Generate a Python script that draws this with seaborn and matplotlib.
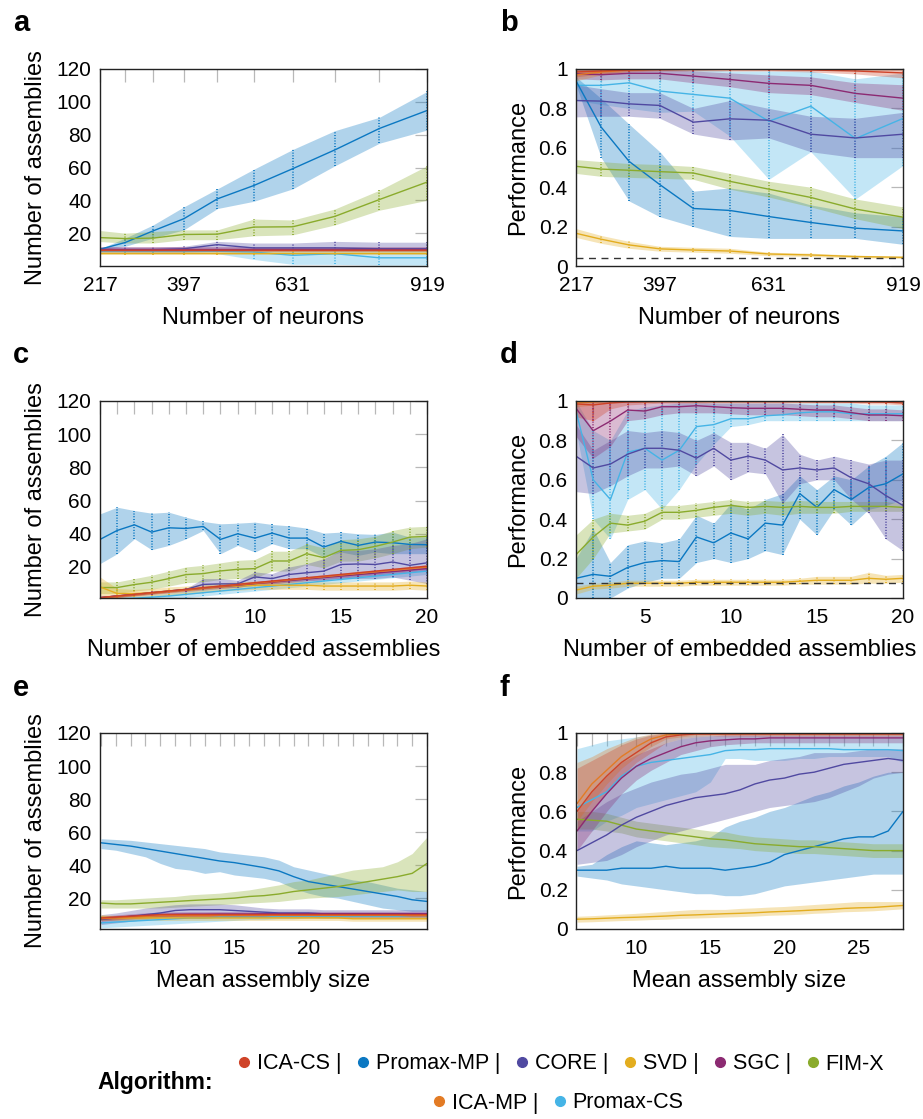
import matplotlib
matplotlib.use("Agg")
import matplotlib.pyplot as plt
from matplotlib.lines import Line2D
import seaborn as sns

# ---------------- data ----------------
ALGOS = ["ICA-CS", "Promax-MP", "CORE", "SVD", "SGC", "FIM-X", "ICA-MP", "Promax-CS"]
COLORS = {
    "ICA-CS": "#cf4328", "Promax-MP": "#0b78c2", "CORE": "#5049a1", "SVD": "#e3ad1f",
    "SGC": "#8c2a72", "FIM-X": "#8aab2c", "ICA-MP": "#e37b24", "Promax-CS": "#45b4e6",
}
DRAW_ORDER = ["Promax-CS", "Promax-MP", "FIM-X", "CORE", "SVD", "SGC", "ICA-MP", "ICA-CS"]

X_NEURONS = [217, 271, 331, 397, 469, 547, 631, 721, 817, 919]
NEURON_LABELS = [217, 397, 631, 919]
X_EMBED = list(range(1, 21))
EMBED_LABELS = [5, 10, 15, 20]
X_SIZE = list(range(6, 29))
SIZE_LABELS = [10, 15, 20, 25]
COUNT_TICKS = [20, 40, 60, 80, 100, 120]
PERF_TICKS = [0, 0.2, 0.4, 0.6, 0.8, 1.0]
PERF_LABELS = ["0", "0.2", "0.4", "0.6", "0.8", "1"]
CHANCE_B = 0.042
CHANCE_D = 0.075

# panel a: number of assemblies vs number of neurons
A_MEAN = {
    "ICA-CS": [10, 10, 10, 10, 10, 10, 10, 10, 10, 10],
    "Promax-MP": [10.2, 14.3, 21.4, 28.8, 40.9, 49.0, 59.3, 70.7, 83.8, 94.7],
    "CORE": [10, 10, 10, 10.5, 13, 11, 11, 11, 10.5, 10.5],
    "SVD": [8, 8, 8, 8, 8, 8, 8, 8, 8, 8],
    "SGC": [10.5, 10.5, 10.5, 10.5, 10.5, 10.5, 10.5, 10.5, 10.5, 10.5],
    "FIM-X": [17.3, 16.7, 17.0, 19.2, 19.4, 23.7, 23.9, 30.2, 40.5, 51.1],
    "ICA-MP": [9.5, 9.5, 9.5, 9.5, 9.5, 9.5, 9.5, 9.5, 9.5, 9.5],
    "Promax-CS": [9, 9, 9, 9, 9, 8.5, 6.5, 7.5, 5, 5],
}
A_LO = {
    "ICA-CS": [9.5, 9.5, 9.5, 9.5, 9.5, 9.5, 9.5, 9.5, 9.5, 9.5],
    "Promax-MP": [10, 12, 17, 22, 35, 39.4, 47, 61, 74.8, 82.8],
    "CORE": [8.5, 8.5, 8.5, 8.5, 9, 9, 9, 9, 9, 9],
    "SVD": [7, 7, 7, 7, 7, 7, 7, 7, 7, 7],
    "SGC": [9.5, 9.5, 9.5, 9.5, 9.5, 9.5, 9.5, 9.5, 9.5, 9.5],
    "FIM-X": [14.9, 14, 14, 16, 16, 18.4, 19, 25, 34, 40],
    "ICA-MP": [9, 9, 9, 9, 9, 9, 9, 9, 9, 9],
    "Promax-CS": [8, 8, 8, 8, 7.5, 4, 1, 1, 0.5, 0.5],
}
A_HI = {
    "ICA-CS": [10.5, 10.5, 10.5, 10.5, 10.5, 10.5, 10.5, 10.5, 10.5, 10.5],
    "Promax-MP": [10.5, 17, 25, 36, 47, 58.9, 71, 82.4, 90.6, 106.3],
    "CORE": [11.5, 11.5, 11.5, 12, 15, 14, 14, 15, 14.5, 14.5],
    "SVD": [9, 9, 9, 9, 9, 9, 9, 9, 9, 9],
    "SGC": [11.5, 11.5, 11.5, 11.5, 11.5, 11.5, 11.5, 11.5, 11.5, 11.5],
    "FIM-X": [21.6, 20, 21, 22, 22, 28.6, 28, 34.7, 46.2, 61],
    "ICA-MP": [10, 10, 10, 10, 10, 10, 10, 10, 10, 10],
    "Promax-CS": [10, 10, 10, 10, 10, 10, 10, 10, 9.5, 9.5],
}

# panel b: performance vs number of neurons
B_MEAN = {
    "ICA-CS": [0.985, 0.99, 0.995, 0.997, 0.998, 0.998, 0.997, 0.995, 0.99, 0.98],
    "Promax-MP": [0.94, 0.705, 0.531, 0.413, 0.292, 0.282, 0.251, 0.221, 0.192, 0.178],
    "CORE": [0.84, 0.837, 0.823, 0.815, 0.73, 0.747, 0.74, 0.669, 0.65, 0.669],
    "SVD": [0.166, 0.136, 0.107, 0.087, 0.081, 0.076, 0.061, 0.056, 0.048, 0.044],
    "SGC": [0.976, 0.971, 0.978, 0.978, 0.964, 0.947, 0.927, 0.917, 0.876, 0.852],
    "FIM-X": [0.506, 0.492, 0.486, 0.479, 0.472, 0.43, 0.39, 0.348, 0.289, 0.248],
    "ICA-MP": [0.97, 0.985, 0.995, 1.0, 1.0, 1.0, 1.0, 1.0, 1.0, 1.0],
    "Promax-CS": [0.917, 0.917, 0.93, 0.888, 0.871, 0.852, 0.735, 0.811, 0.647, 0.749],
}
B_LO = {
    "ICA-CS": [0.96, 0.975, 0.985, 0.99, 0.99, 0.99, 0.99, 0.985, 0.975, 0.955],
    "Promax-MP": [0.92, 0.55, 0.33, 0.25, 0.2, 0.15, 0.14, 0.14, 0.14, 0.11],
    "CORE": [0.757, 0.76, 0.76, 0.75, 0.67, 0.64, 0.65, 0.58, 0.55, 0.55],
    "SVD": [0.145, 0.115, 0.09, 0.075, 0.07, 0.065, 0.052, 0.048, 0.042, 0.038],
    "SGC": [0.95, 0.945, 0.95, 0.95, 0.93, 0.91, 0.88, 0.87, 0.83, 0.79],
    "FIM-X": [0.47, 0.455, 0.45, 0.445, 0.44, 0.39, 0.35, 0.3, 0.24, 0.19],
    "ICA-MP": [0.94, 0.97, 0.99, 0.995, 0.995, 0.995, 0.995, 0.995, 0.995, 0.995],
    "Promax-CS": [0.84, 0.82, 0.8, 0.78, 0.786, 0.66, 0.44, 0.58, 0.34, 0.51],
}
B_HI = {
    "ICA-CS": [1.0, 1.0, 1.0, 1.0, 1.0, 1.0, 1.0, 1.0, 1.0, 1.0],
    "Promax-MP": [0.96, 0.85, 0.72, 0.58, 0.38, 0.396, 0.37, 0.31, 0.27, 0.25],
    "CORE": [0.92, 0.9, 0.88, 0.88, 0.8, 0.84, 0.8, 0.76, 0.75, 0.78],
    "SVD": [0.19, 0.155, 0.125, 0.1, 0.095, 0.09, 0.07, 0.065, 0.055, 0.05],
    "SGC": [1.0, 1.0, 1.0, 1.0, 0.99, 0.98, 0.97, 0.96, 0.93, 0.92],
    "FIM-X": [0.54, 0.53, 0.52, 0.515, 0.505, 0.47, 0.43, 0.4, 0.34, 0.3],
    "ICA-MP": [1.0, 1.0, 1.0, 1.0, 1.0, 1.0, 1.0, 1.0, 1.0, 1.0],
    "Promax-CS": [1.0, 1.0, 1.0, 1.0, 1.0, 0.99, 0.99, 0.99, 0.95, 0.98],
}

# panel c: number of assemblies vs number of embedded assemblies
C_MEAN = {
    "ICA-CS": [1.5, 2.5, 3.5, 4.5, 5.5, 6.5, 7.5, 8.5, 9.5, 10.5, 11.5, 12.5, 13.5, 14.5, 15.5, 16.5, 17.5, 18.5, 19.5, 20.5],
    "Promax-MP": [36.6, 42.0, 45.4, 41.0, 43.6, 43.2, 44.4, 36.6, 40.0, 37.4, 40.4, 37.4, 37.4, 32.0, 35.4, 33.0, 35.0, 34.6, 33.6, 33.4],
    "CORE": [1.5, 2.5, 3.5, 4.5, 5.5, 6.5, 9.5, 9.8, 9.8, 14.0, 13.0, 15.5, 16.5, 17.5, 21.5, 21.8, 21.5, 23.0, 21.0, 22.5],
    "SVD": [8.0, 4.0, 4.0, 4.5, 5.5, 6.0, 7.0, 8.0, 8.5, 9.0, 9.0, 9.0, 9.0, 8.5, 8.5, 8.5, 8.5, 8.5, 9.0, 8.5],
    "SGC": [1.5, 2.5, 3.4, 4.4, 5.3, 6.2, 7.2, 8.1, 9.0, 10.0, 10.9, 11.8, 12.7, 13.6, 14.5, 15.4, 16.3, 17.2, 18.1, 19.0],
    "FIM-X": [7.6, 7.6, 9.4, 10.8, 13.0, 15.4, 16.0, 17.6, 18.6, 19.0, 23.6, 23.6, 28.0, 25.6, 30.0, 30.4, 32.4, 35.0, 38.0, 38.4],
    "ICA-MP": [1.3, 2.3, 3.3, 4.3, 5.3, 6.3, 7.3, 8.3, 9.3, 10.2, 11.2, 12.2, 13.2, 14.1, 15.1, 16.1, 17.1, 18.0, 19.0, 20.0],
    "Promax-CS": [0.5, 0.8, 1.2, 1.8, 2.5, 3.5, 4.5, 5.5, 6.5, 7.5, 8.5, 9.5, 10.5, 11.5, 12.5, 13.5, 14.5, 15.5, 16.5, 17.5],
}
C_LO = {
    "ICA-CS": [0.7, 1.7, 2.7, 3.7, 4.7, 5.7, 6.7, 7.7, 8.7, 9.7, 10.7, 11.7, 12.7, 13.7, 14.7, 15.7, 16.7, 17.7, 18.7, 19.7],
    "Promax-MP": [22, 28, 37, 30.4, 33, 37, 42, 28, 33, 29, 34, 31, 31, 26, 29, 27, 29, 28, 28, 28],
    "CORE": [1, 2, 3, 4, 5, 6, 7, 7.5, 7.5, 10, 10, 11, 12, 12, 13, 13, 13, 14, 12, 10],
    "SVD": [2, 1.5, 2, 2.5, 3, 3.5, 4.5, 5.5, 6, 6.5, 6.5, 6.5, 6.5, 6, 6, 6, 6, 6, 6.5, 6],
    "SGC": [0.7, 1.6, 2.5, 3.4, 4.3, 5.2, 6.1, 7.0, 7.9, 8.8, 9.7, 10.6, 11.5, 12.4, 13.3, 14.2, 15.1, 16.0, 16.9, 17.8],
    "FIM-X": [4, 4, 5.5, 6.5, 8.5, 10.5, 11, 12.5, 13, 13.5, 17.5, 17.5, 21.5, 19.5, 23.5, 23.5, 25.5, 28, 31, 32],
    "ICA-MP": [0.6, 1.6, 2.6, 3.6, 4.6, 5.6, 6.6, 7.6, 8.6, 9.5, 10.5, 11.5, 12.5, 13.4, 14.4, 15.4, 16.4, 17.3, 18.3, 19.3],
    "Promax-CS": [0, 0, 0, 0.3, 0.8, 1.5, 2.5, 3.5, 4.5, 5.5, 6.5, 7.5, 8.5, 9.5, 10.5, 11.5, 12.5, 13.5, 14.5, 15.5],
}
C_HI = {
    "ICA-CS": [2.3, 3.3, 4.3, 5.3, 6.3, 7.3, 8.3, 9.3, 10.3, 11.3, 12.3, 13.3, 14.3, 15.3, 16.3, 17.3, 18.3, 19.3, 20.3, 21.3],
    "Promax-MP": [52, 56, 54, 52.4, 53, 50, 47.4, 46, 46.4, 47, 45.6, 44.8, 43.4, 40.4, 41, 40, 39.6, 41, 38, 38],
    "CORE": [2, 3, 4, 5, 6, 7, 13, 13, 12, 17, 16, 20, 22, 25, 30, 30, 31, 33, 34, 37],
    "SVD": [14, 7, 6.5, 7, 8, 8.5, 9.5, 10.5, 11, 11.5, 11.5, 11.5, 11.5, 11, 11, 11, 11, 11, 11.5, 11],
    "SGC": [2.3, 3.4, 4.3, 5.4, 6.3, 7.2, 8.3, 9.2, 10.1, 11.2, 12.1, 13.0, 13.9, 14.8, 15.7, 16.6, 17.5, 18.4, 19.3, 20.2],
    "FIM-X": [11, 11, 13, 15, 17.5, 20, 21, 22.5, 24, 24.5, 29.5, 29.5, 34, 31.5, 36.5, 37, 38.5, 42, 44, 44.5],
    "ICA-MP": [2.0, 3.0, 4.0, 5.0, 6.0, 7.0, 8.0, 9.0, 10.0, 10.9, 11.9, 12.9, 13.9, 14.8, 15.8, 16.8, 17.8, 18.7, 19.7, 20.7],
    "Promax-CS": [1.5, 2, 2.5, 3.3, 4.2, 5.5, 6.5, 7.5, 8.5, 9.5, 10.5, 11.5, 12.5, 13.5, 14.5, 15.5, 16.5, 17.5, 18.5, 19.5],
}

# panel d: performance vs number of embedded assemblies
D_MEAN = {
    "ICA-CS": [0.985, 0.98, 0.99, 0.995, 0.995, 0.997, 0.997, 0.997, 0.997, 0.997, 0.997, 0.997, 0.997, 0.997, 0.996, 0.996, 0.995, 0.995, 0.994, 0.99],
    "Promax-MP": [0.10, 0.12, 0.11, 0.155, 0.18, 0.19, 0.185, 0.31, 0.28, 0.33, 0.30, 0.38, 0.37, 0.53, 0.46, 0.55, 0.50, 0.56, 0.58, 0.63],
    "CORE": [0.72, 0.66, 0.68, 0.73, 0.76, 0.76, 0.75, 0.71, 0.76, 0.70, 0.72, 0.70, 0.65, 0.66, 0.65, 0.66, 0.61, 0.58, 0.52, 0.47],
    "SVD": [0.04, 0.06, 0.065, 0.075, 0.075, 0.075, 0.075, 0.08, 0.08, 0.08, 0.08, 0.08, 0.08, 0.085, 0.09, 0.09, 0.09, 0.1, 0.095, 0.1],
    "SGC": [0.963, 0.849, 0.898, 0.954, 0.949, 0.971, 0.971, 0.976, 0.971, 0.966, 0.963, 0.963, 0.963, 0.958, 0.954, 0.954, 0.941, 0.929, 0.929, 0.925],
    "FIM-X": [0.22, 0.31, 0.38, 0.37, 0.39, 0.435, 0.435, 0.445, 0.46, 0.47, 0.46, 0.465, 0.46, 0.465, 0.46, 0.46, 0.465, 0.465, 0.465, 0.46],
    "ICA-MP": [0.99, 0.995, 1.0, 1.0, 1.0, 1.0, 1.0, 1.0, 1.0, 1.0, 1.0, 1.0, 1.0, 1.0, 1.0, 1.0, 1.0, 1.0, 1.0, 1.0],
    "Promax-CS": [0.95, 0.6, 0.5, 0.74, 0.76, 0.7, 0.75, 0.87, 0.88, 0.91, 0.91, 0.925, 0.93, 0.94, 0.945, 0.945, 0.935, 0.935, 0.935, 0.935],
}
D_LO = {
    "ICA-CS": [0.92, 0.9, 0.96, 0.98, 0.985, 0.99, 0.99, 0.99, 0.99, 0.99, 0.99, 0.99, 0.99, 0.99, 0.99, 0.99, 0.99, 0.985, 0.985, 0.98],
    "Promax-MP": [0.0, 0.0, 0.0, 0.05, 0.08, 0.1, 0.1, 0.18, 0.2, 0.18, 0.2, 0.24, 0.22, 0.4, 0.32, 0.45, 0.37, 0.45, 0.47, 0.5],
    "CORE": [0.54, 0.53, 0.57, 0.62, 0.66, 0.66, 0.67, 0.62, 0.67, 0.6, 0.64, 0.63, 0.48, 0.58, 0.6, 0.6, 0.5, 0.43, 0.3, 0.24],
    "SVD": [0.02, 0.045, 0.05, 0.06, 0.06, 0.06, 0.06, 0.065, 0.065, 0.065, 0.065, 0.065, 0.065, 0.07, 0.07, 0.07, 0.07, 0.075, 0.075, 0.08],
    "SGC": [0.82, 0.71, 0.77, 0.9, 0.91, 0.93, 0.94, 0.94, 0.94, 0.935, 0.93, 0.93, 0.93, 0.925, 0.92, 0.92, 0.91, 0.9, 0.9, 0.9],
    "FIM-X": [0.1, 0.2, 0.33, 0.34, 0.35, 0.4, 0.4, 0.41, 0.42, 0.43, 0.42, 0.43, 0.42, 0.43, 0.43, 0.43, 0.44, 0.44, 0.44, 0.44],
    "ICA-MP": [0.97, 0.98, 0.99, 0.995, 0.995, 0.995, 0.995, 0.995, 0.995, 0.995, 0.995, 0.995, 0.995, 0.995, 0.995, 0.995, 0.995, 0.995, 0.995, 0.995],
    "Promax-CS": [0.85, 0.4, 0.3, 0.5, 0.55, 0.45, 0.55, 0.68, 0.78, 0.87, 0.88, 0.9, 0.9, 0.9, 0.9, 0.9, 0.9, 0.9, 0.9, 0.9],
}
D_HI = {
    "ICA-CS": [1.0] * 20,
    "Promax-MP": [0.2, 0.35, 0.18, 0.27, 0.29, 0.28, 0.3, 0.42, 0.38, 0.48, 0.45, 0.5, 0.53, 0.62, 0.55, 0.62, 0.6, 0.67, 0.72, 0.79],
    "CORE": [0.88, 0.75, 0.8, 0.85, 0.84, 0.85, 0.84, 0.8, 0.84, 0.79, 0.79, 0.76, 0.83, 0.73, 0.7, 0.72, 0.7, 0.68, 0.7, 0.7],
    "SVD": [0.06, 0.075, 0.08, 0.09, 0.09, 0.09, 0.09, 0.095, 0.095, 0.095, 0.095, 0.095, 0.095, 0.1, 0.11, 0.11, 0.11, 0.13, 0.115, 0.12],
    "SGC": [1.0, 1.0, 1.0, 1.0, 0.99, 0.995, 0.995, 0.995, 0.99, 0.99, 0.99, 0.99, 0.99, 0.985, 0.98, 0.98, 0.97, 0.96, 0.96, 0.955],
    "FIM-X": [0.32, 0.4, 0.43, 0.42, 0.43, 0.47, 0.47, 0.48, 0.49, 0.5, 0.49, 0.495, 0.49, 0.495, 0.49, 0.49, 0.49, 0.49, 0.49, 0.48],
    "ICA-MP": [1.0] * 20,
    "Promax-CS": [1.0, 0.85, 0.8, 0.95, 0.97, 0.98, 0.99, 0.99, 0.99, 0.99, 0.99, 0.99, 0.99, 0.99, 0.99, 0.99, 0.99, 0.98, 0.98, 0.98],
}

# panel e: number of assemblies vs mean assembly size (6 .. 28)
E_MEAN = {
    "ICA-CS": [8, 8.5, 9, 9.5, 10, 10, 10, 10, 10, 10, 10, 10, 10, 10, 10, 10, 10, 10, 10, 10, 10, 10, 10],
    "Promax-MP": [53.5, 52.5, 51.5, 50, 48.5, 47, 45.5, 44, 42.5, 41.5, 40, 38.5, 36.5, 33, 30, 28.5, 27, 25.5, 24, 22.5, 21, 19, 18],
    "CORE": [7, 8, 9, 10, 11, 12.5, 13, 13, 13, 12.5, 12, 11.5, 11, 11, 11, 10.5, 10.5, 10.5, 10.5, 10.5, 10.5, 10.5, 10.5],
    "SVD": [8.5, 8, 8, 8, 8, 8, 8, 8, 8, 8, 8, 8, 8, 8, 8, 8, 8, 7.5, 7.5, 7.5, 7.5, 7.5, 7.5],
    "SGC": [7.5, 8.3, 9, 9.6, 10, 10.2, 10.3, 10.3, 10.4, 10.4, 10.4, 10.5, 10.5, 10.5, 10.5, 10.5, 10.5, 10.5, 10.5, 10.5, 10.5, 10.5, 10.5],
    "FIM-X": [17, 16.5, 16.5, 17, 17.5, 18, 18.5, 19, 19.5, 20, 21, 21.5, 22.5, 24, 25, 26, 27, 28.5, 30, 31.5, 33, 35, 41],
    "ICA-MP": [7.5, 8, 8.5, 9, 9.5, 9.5, 9.5, 9.5, 9.5, 9.5, 9.5, 9.5, 9.5, 9.5, 9.5, 9.5, 9.5, 9.5, 9.5, 9.5, 9.5, 9.5, 9.5],
    "Promax-CS": [5, 5.5, 6, 6.5, 7, 7.5, 8, 8, 8.5, 8.5, 8.5, 8.5, 9, 9, 9, 9, 9, 9, 9, 9, 9, 9.5, 9.5],
}
E_LO = {
    "ICA-CS": [7, 7.5, 8, 8.5, 9, 9, 9, 9, 9, 9, 9, 9, 9, 9, 9, 9, 9, 9, 9, 9, 9, 9, 9],
    "Promax-MP": [50, 49, 47, 45, 41, 38, 37, 35, 36, 34, 33, 32, 30, 26, 23, 21, 20, 18, 16, 14, 13, 12, 12],
    "CORE": [4, 5, 6, 7, 8, 9, 9.5, 9.5, 9.5, 9, 9, 8.5, 8.5, 8.5, 8.5, 8, 8, 8, 8, 8, 8, 8, 8],
    "SVD": [6.5, 6.5, 6.5, 6.5, 6.5, 6.5, 6.5, 6.5, 6.5, 6.5, 6.5, 6.5, 6.5, 6.5, 6.5, 6.5, 6.5, 6, 6, 6, 6, 6, 6],
    "SGC": [6, 6.8, 7.5, 8.1, 8.5, 8.7, 8.8, 8.8, 8.9, 8.9, 8.9, 9, 9, 9, 9, 9, 9, 9, 9, 9, 9, 9, 9],
    "FIM-X": [14, 14, 14, 14, 14, 14.5, 15, 15.5, 16, 16.5, 17, 17.5, 18, 19, 20, 20.5, 21, 22, 23, 24, 25, 24, 24],
    "ICA-MP": [6.5, 7, 7.5, 8, 8.5, 8.5, 8.5, 8.5, 8.5, 8.5, 8.5, 8.5, 8.5, 8.5, 8.5, 8.5, 8.5, 8.5, 8.5, 8.5, 8.5, 8.5, 8.5],
    "Promax-CS": [2, 2.5, 3, 3.5, 4, 4.5, 5, 5.5, 6, 6.5, 7, 7, 7.5, 7.5, 8, 8, 8, 8, 8, 8, 8, 8, 8],
}
E_HI = {
    "ICA-CS": [9, 9.5, 10, 10.5, 11, 11, 11, 11, 11, 11, 11, 11, 11, 11, 11, 11, 11, 11, 11, 11, 11, 11, 11],
    "Promax-MP": [56, 55.5, 55, 54, 53, 52, 51, 50, 48, 47, 46, 45, 43, 39, 37, 35, 33, 31, 30, 28, 26, 25, 24],
    "CORE": [10, 11, 12.5, 14, 15, 16, 16.5, 16.5, 16.5, 16, 15, 14, 13.5, 13.5, 13.5, 13, 13, 13, 13, 13, 13, 13, 13],
    "SVD": [10, 9.5, 9.5, 9.5, 9.5, 9.5, 9.5, 9.5, 9.5, 9.5, 9.5, 9.5, 9.5, 9.5, 9.5, 9.5, 9.5, 9, 9, 9, 9, 9, 9],
    "SGC": [9, 9.8, 10.5, 11.1, 11.5, 11.7, 11.8, 11.8, 11.9, 11.9, 11.9, 12, 12, 12, 12, 12, 12, 12, 12, 12, 12, 12, 12],
    "FIM-X": [19, 19, 19.5, 20, 20.5, 21, 22, 22.5, 23, 24, 25, 26.5, 28, 30, 31, 33, 35, 37, 38, 39, 42, 47, 57],
    "ICA-MP": [8.5, 9, 9.5, 10, 10.5, 10.5, 10.5, 10.5, 10.5, 10.5, 10.5, 10.5, 10.5, 10.5, 10.5, 10.5, 10.5, 10.5, 10.5, 10.5, 10.5, 10.5, 10.5],
    "Promax-CS": [8, 8.5, 9, 9, 9.5, 9.5, 10, 10, 10, 10, 10, 10, 10.5, 10.5, 10.5, 10.5, 10.5, 10.5, 10.5, 10.5, 10.5, 11, 11],
}

# panel f: performance vs mean assembly size (6 .. 28)
F_MEAN = {
    "ICA-CS": [0.6, 0.7, 0.78, 0.85, 0.9, 0.95, 0.98, 0.99, 0.995, 0.995, 0.995, 0.995, 0.995, 0.995, 0.995, 0.995, 0.995, 0.995, 0.995, 0.995, 0.995, 0.995, 0.995],
    "Promax-MP": [0.3, 0.3, 0.3, 0.31, 0.31, 0.31, 0.32, 0.31, 0.31, 0.31, 0.3, 0.31, 0.32, 0.34, 0.38, 0.4, 0.42, 0.44, 0.46, 0.47, 0.47, 0.5, 0.6],
    "CORE": [0.4, 0.44, 0.48, 0.53, 0.57, 0.6, 0.63, 0.65, 0.67, 0.68, 0.69, 0.71, 0.74, 0.76, 0.77, 0.79, 0.8, 0.82, 0.84, 0.85, 0.86, 0.87, 0.86],
    "SVD": [0.05, 0.052, 0.055, 0.058, 0.06, 0.063, 0.066, 0.07, 0.072, 0.075, 0.078, 0.08, 0.083, 0.087, 0.09, 0.093, 0.097, 0.1, 0.105, 0.108, 0.11, 0.115, 0.12],
    "SGC": [0.5, 0.6, 0.69, 0.77, 0.83, 0.87, 0.9, 0.93, 0.95, 0.96, 0.965, 0.97, 0.97, 0.975, 0.975, 0.975, 0.975, 0.975, 0.975, 0.975, 0.975, 0.975, 0.975],
    "FIM-X": [0.56, 0.555, 0.55, 0.53, 0.51, 0.5, 0.49, 0.48, 0.47, 0.46, 0.455, 0.445, 0.435, 0.43, 0.425, 0.42, 0.42, 0.415, 0.41, 0.405, 0.4, 0.4, 0.4],
    "ICA-MP": [0.64, 0.74, 0.81, 0.88, 0.93, 0.97, 0.99, 0.995, 0.997, 0.997, 0.997, 0.997, 0.997, 0.997, 0.997, 0.997, 0.997, 0.997, 0.997, 0.997, 0.997, 0.997, 0.997],
    "Promax-CS": [0.62, 0.66, 0.7, 0.78, 0.83, 0.85, 0.86, 0.87, 0.88, 0.89, 0.91, 0.915, 0.915, 0.92, 0.92, 0.92, 0.92, 0.92, 0.915, 0.915, 0.915, 0.915, 0.91],
}
F_LO = {
    "ICA-CS": [0.5, 0.6, 0.7, 0.78, 0.85, 0.9, 0.95, 0.97, 0.98, 0.985, 0.985, 0.985, 0.985, 0.985, 0.985, 0.985, 0.985, 0.985, 0.985, 0.985, 0.985, 0.985, 0.985],
    "Promax-MP": [0.27, 0.26, 0.25, 0.23, 0.22, 0.21, 0.2, 0.19, 0.18, 0.18, 0.17, 0.17, 0.18, 0.2, 0.22, 0.23, 0.24, 0.25, 0.26, 0.27, 0.28, 0.28, 0.28],
    "CORE": [0.33, 0.34, 0.35, 0.38, 0.42, 0.45, 0.48, 0.5, 0.52, 0.54, 0.56, 0.58, 0.6, 0.62, 0.63, 0.64, 0.65, 0.67, 0.7, 0.73, 0.77, 0.79, 0.8],
    "SVD": [0.035, 0.037, 0.04, 0.043, 0.045, 0.048, 0.05, 0.054, 0.056, 0.058, 0.061, 0.063, 0.066, 0.07, 0.072, 0.075, 0.08, 0.083, 0.088, 0.09, 0.093, 0.098, 0.103],
    "SGC": [0.4, 0.5, 0.6, 0.69, 0.76, 0.81, 0.85, 0.89, 0.91, 0.93, 0.94, 0.945, 0.95, 0.95, 0.95, 0.95, 0.95, 0.95, 0.95, 0.95, 0.95, 0.95, 0.95],
    "FIM-X": [0.51, 0.51, 0.5, 0.49, 0.47, 0.46, 0.45, 0.44, 0.43, 0.42, 0.415, 0.41, 0.4, 0.395, 0.39, 0.385, 0.385, 0.38, 0.375, 0.37, 0.365, 0.365, 0.365],
    "ICA-MP": [0.55, 0.65, 0.74, 0.82, 0.88, 0.93, 0.97, 0.98, 0.99, 0.99, 0.99, 0.99, 0.99, 0.99, 0.99, 0.99, 0.99, 0.99, 0.99, 0.99, 0.99, 0.99, 0.99],
    "Promax-CS": [0.5, 0.5, 0.55, 0.58, 0.62, 0.64, 0.66, 0.68, 0.7, 0.75, 0.87, 0.87, 0.86, 0.86, 0.86, 0.87, 0.87, 0.88, 0.88, 0.88, 0.88, 0.88, 0.85],
}
F_HI = {
    "ICA-CS": [0.82, 0.86, 0.9, 0.94, 0.97, 0.99, 1.0, 1.0, 1.0, 1.0, 1.0, 1.0, 1.0, 1.0, 1.0, 1.0, 1.0, 1.0, 1.0, 1.0, 1.0, 1.0, 1.0],
    "Promax-MP": [0.32, 0.33, 0.38, 0.42, 0.45, 0.44, 0.43, 0.44, 0.45, 0.47, 0.52, 0.55, 0.57, 0.6, 0.62, 0.65, 0.68, 0.7, 0.73, 0.75, 0.78, 0.8, 0.8],
    "CORE": [0.55, 0.6, 0.65, 0.69, 0.72, 0.75, 0.77, 0.79, 0.8, 0.82, 0.84, 0.84, 0.84, 0.86, 0.87, 0.88, 0.9, 0.9, 0.9, 0.91, 0.92, 0.92, 0.92],
    "SVD": [0.065, 0.068, 0.072, 0.076, 0.08, 0.085, 0.09, 0.095, 0.1, 0.1, 0.1, 0.105, 0.108, 0.112, 0.115, 0.12, 0.125, 0.13, 0.135, 0.14, 0.14, 0.14, 0.14],
    "SGC": [0.6, 0.7, 0.78, 0.85, 0.89, 0.92, 0.95, 0.97, 0.98, 0.985, 0.99, 0.99, 0.99, 0.99, 0.99, 0.99, 0.99, 0.99, 0.99, 0.99, 0.99, 0.99, 0.99],
    "FIM-X": [0.6, 0.6, 0.59, 0.57, 0.55, 0.54, 0.53, 0.52, 0.51, 0.5, 0.495, 0.48, 0.47, 0.465, 0.46, 0.455, 0.455, 0.45, 0.445, 0.44, 0.435, 0.435, 0.435],
    "ICA-MP": [0.85, 0.88, 0.92, 0.95, 0.98, 0.995, 1.0, 1.0, 1.0, 1.0, 1.0, 1.0, 1.0, 1.0, 1.0, 1.0, 1.0, 1.0, 1.0, 1.0, 1.0, 1.0, 1.0],
    "Promax-CS": [0.92, 0.94, 0.96, 0.97, 0.98, 0.99, 0.99, 0.99, 0.99, 0.99, 0.99, 0.99, 0.99, 0.99, 0.99, 0.99, 0.99, 0.99, 0.99, 0.99, 0.99, 0.99, 0.99],
}

# ---------------- style ----------------
sns.set_theme(style="white")
plt.rcParams["font.family"] = ["Liberation Sans", "DejaVu Sans"]
plt.rcParams["axes.linewidth"] = 1.0
plt.rcParams["text.color"] = "black"
plt.rcParams["axes.labelcolor"] = "black"
plt.rcParams["xtick.color"] = "black"
plt.rcParams["ytick.color"] = "black"

FIG_W, FIG_H = 923, 1119
fig = plt.figure(figsize=(FIG_W / 100, FIG_H / 100), dpi=100)


def frac_rect(left, top, right, bottom):
    return [left / FIG_W, 1 - bottom / FIG_H, (right - left) / FIG_W, (bottom - top) / FIG_H]


def draw_panel(ax, x, mean, lo, hi, dots):
    for algo in DRAW_ORDER:
        ax.fill_between(x, lo[algo], hi[algo], color=COLORS[algo], alpha=0.32, lw=0, zorder=1)
    if dots:
        for algo in DRAW_ORDER:
            ax.vlines(x, lo[algo], hi[algo], colors=COLORS[algo], linestyles=(0, (0.5, 0.9)),
                      linewidth=1.4, alpha=0.9, zorder=2)
    for algo in DRAW_ORDER:
        sns.lineplot(x=x, y=mean[algo], ax=ax, color=COLORS[algo], linewidth=1.0,
                     errorbar=None, zorder=3, legend=False)


def style_axes(ax, xticks, xlabels_at, xlim, yticks, ylabels, ylim, xlabel, ylabel):
    ax.set_xlim(*xlim)
    ax.set_ylim(*ylim)
    ax.set_xticks(xticks)
    ax.set_xticklabels([str(v) if v in xlabels_at else "" for v in xticks])
    ax.set_yticks(yticks)
    ax.set_yticklabels(ylabels)
    ax.tick_params(axis="both", which="both", direction="in", color="#b8b8b8", length=9,
                   width=0.9, top=True, right=True, labelsize=15, pad=6, labelcolor="black")
    ax.tick_params(axis="x", pad=7)
    ax.set_xlabel(xlabel, fontsize=17, labelpad=9, color="black")
    ax.set_ylabel(ylabel, fontsize=17, labelpad=7, color="black")
    for sp in ax.spines.values():
        sp.set_color("#222222")
        sp.set_linewidth(1.0)
        sp.set_zorder(5)


rects = {
    "a": frac_rect(100, 69, 427, 266), "b": frac_rect(576, 69, 903, 266),
    "c": frac_rect(100, 401, 427, 598), "d": frac_rect(576, 401, 903, 598),
    "e": frac_rect(100, 733, 427, 929), "f": frac_rect(576, 733, 903, 929),
}
axs = {k: fig.add_axes(r) for k, r in rects.items()}

count_lbl = [str(v) for v in COUNT_TICKS]

draw_panel(axs["a"], X_NEURONS, A_MEAN, A_LO, A_HI, True)
style_axes(axs["a"], X_NEURONS, NEURON_LABELS, (217, 919), COUNT_TICKS, count_lbl, (0, 120),
           "Number of neurons", "Number of assemblies")

draw_panel(axs["b"], X_NEURONS, B_MEAN, B_LO, B_HI, True)
axs["b"].axhline(CHANCE_B, color="#333333", lw=1.0, ls=(0, (5, 4)), zorder=4)
style_axes(axs["b"], X_NEURONS, NEURON_LABELS, (217, 919), PERF_TICKS, PERF_LABELS, (0, 1),
           "Number of neurons", "Performance")

draw_panel(axs["c"], X_EMBED, C_MEAN, C_LO, C_HI, True)
style_axes(axs["c"], X_EMBED, EMBED_LABELS, (1, 20), COUNT_TICKS, count_lbl, (1.3, 120),
           "Number of embedded assemblies", "Number of assemblies")

draw_panel(axs["d"], X_EMBED, D_MEAN, D_LO, D_HI, True)
axs["d"].axhline(CHANCE_D, color="#333333", lw=1.0, ls=(0, (5, 4)), zorder=4)
style_axes(axs["d"], X_EMBED, EMBED_LABELS, (1, 20), PERF_TICKS, PERF_LABELS, (0, 1),
           "Number of embedded assemblies", "Performance")

draw_panel(axs["e"], X_SIZE, E_MEAN, E_LO, E_HI, False)
style_axes(axs["e"], X_SIZE, SIZE_LABELS, (5.93, 28), COUNT_TICKS, count_lbl, (1.3, 120),
           "Mean assembly size", "Number of assemblies")

draw_panel(axs["f"], X_SIZE, F_MEAN, F_LO, F_HI, False)
style_axes(axs["f"], X_SIZE, SIZE_LABELS, (5.93, 28), PERF_TICKS, PERF_LABELS, (0, 1),
           "Mean assembly size", "Performance")

# panel letters
for letter, (px, py) in {"a": (13, 31), "b": (500, 31), "c": (13, 363),
                          "d": (500, 363), "e": (13, 696), "f": (500, 696)}.items():
    fig.text(px / FIG_W, 1 - py / FIG_H, letter, fontsize=21, fontweight="bold",
             ha="left", va="baseline", color="black")

# legend
def handle(algo):
    return Line2D([], [], marker="o", ls="", color=COLORS[algo], markersize=7)

row1 = ALGOS[:6]
row2 = ALGOS[6:]
lab1 = [a + " |" if i < len(row1) - 1 else a for i, a in enumerate(row1)]
lab2 = [a + " |" if i < len(row2) - 1 else a for i, a in enumerate(row2)]
leg1 = fig.legend([handle(a) for a in row1], lab1, loc="center",
                  bbox_to_anchor=(561 / FIG_W, 1 - 1064 / FIG_H), ncol=6, frameon=False,
                  fontsize=15.5, handlelength=0.6, handletextpad=0.3, columnspacing=0.7)
leg2 = fig.legend([handle(a) for a in row2], lab2, loc="center",
                  bbox_to_anchor=(558 / FIG_W, 1 - 1103 / FIG_H), ncol=2, frameon=False,
                  fontsize=15.5, handlelength=0.6, handletextpad=0.3, columnspacing=0.7)
for leg in (leg1, leg2):
    for t in leg.get_texts():
        t.set_color("black")
fig.text(97 / FIG_W, 1 - 1083 / FIG_H, "Algorithm:", fontsize=16.5, fontweight="bold",
         ha="left", va="center", color="black")

fig.savefig("out.png", dpi=100)
